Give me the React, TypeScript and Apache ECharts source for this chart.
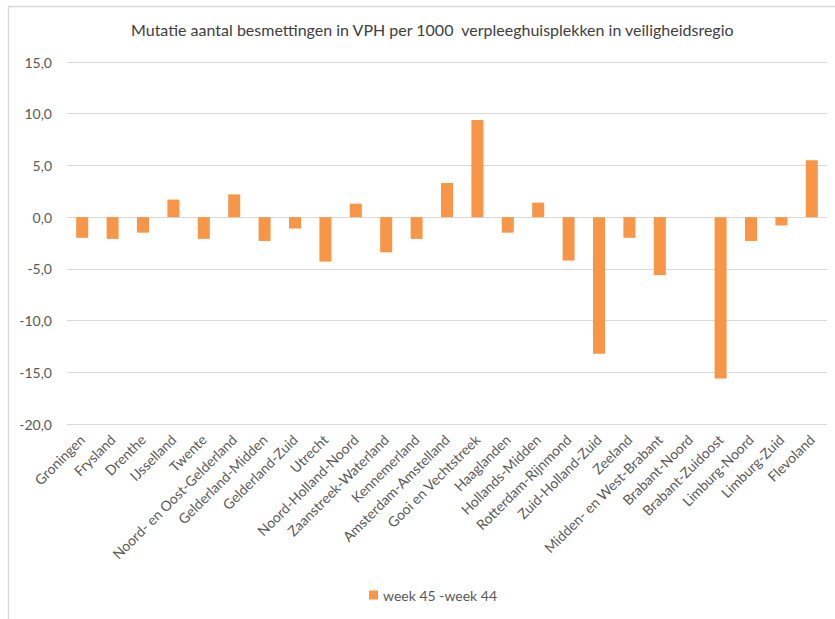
import React, { useEffect, useRef } from "react";
import * as echarts from "echarts";

const categories = [
  "Groningen", "Frysland", "Drenthe", "IJsselland", "Twente",
  "Noord- en Oost-Gelderland", "Gelderland-Midden", "Gelderland-Zuid", "Utrecht",
  "Noord-Holland-Noord", "Zaanstreek-Waterland", "Kennemerland", "Amsterdam-Amstelland",
  "Gooi en Vechtstreek", "Haaglanden", "Hollands-Midden", "Rotterdam-Rijnmond",
  "Zuid-Holland-Zuid", "Zeeland", "Midden- en West-Brabant", "Brabant-Noord",
  "Brabant-Zuidoost", "Limburg-Noord", "Limburg-Zuid", "Flevoland",
];

const mutatie = [
  -2.0, -2.1, -1.5, 1.7, -2.1,
  2.2, -2.3, -1.1, -4.3,
  1.3, -3.4, -2.1, 3.3,
  9.4, -1.5, 1.4, -4.2,
  -13.2, -2.0, -5.6, 0,
  -15.6, -2.3, -0.8, 5.5,
];

const seriesName = "week 45 -week 44";
const titleText = "Mutatie aantal besmettingen in VPH per 1000  verpleeghuisplekken in veiligheidsregio";

export default function App() {
  const ref = useRef<HTMLDivElement>(null);
  useEffect(() => {
    if (!ref.current) return;
    const chart = echarts.init(ref.current, undefined, { renderer: "svg" });
    const font = "Lato, 'Open Sans', sans-serif";
    chart.setOption({
      animation: false,
      backgroundColor: "#ffffff",
      textStyle: { fontFamily: font },
      title: {
        text: titleText,
        left: 126,
        top: 16,
        textStyle: { fontFamily: font, fontSize: 16, fontWeight: "normal", color: "#404040" },
      },
      graphic: [
        {
          type: "line",
          shape: { x1: 8.5, y1: 6, x2: 8.5, y2: 619 },
          style: { stroke: "#d9d9d9", lineWidth: 1.5 },
          silent: true,
        },
        {
          type: "line",
          shape: { x1: 8, y1: 6.5, x2: 835, y2: 6.5 },
          style: { stroke: "#d9d9d9", lineWidth: 1.5 },
          silent: true,
        },
      ],
      legend: {
        bottom: 12,
        left: 364,
        itemWidth: 9,
        itemHeight: 9,
        icon: "rect",
        itemGap: 4,
        textStyle: { fontFamily: font, fontSize: 14, color: "#595959" },
        data: [seriesName],
      },
      grid: { left: 67, right: 8, top: 62, bottom: 195, containLabel: false },
      xAxis: {
        type: "category",
        data: categories,
        axisLine: { show: false, onZero: false },
        axisTick: { show: false },
        axisLabel: {
          rotate: 45,
          interval: 0,
          margin: 13,
          fontFamily: font,
          fontSize: 14,
          color: "#595959",
        },
      },
      yAxis: {
        type: "value",
        min: -20,
        max: 15,
        interval: 5,
        axisLine: { show: false },
        axisTick: { show: false },
        splitLine: { lineStyle: { color: "#d9d9d9", width: 1 } },
        axisLabel: {
          margin: 15,
          fontFamily: font,
          fontSize: 14,
          color: "#595959",
          formatter: (v: number) => v.toFixed(1).replace(".", ","),
        },
      },
      series: [
        {
          name: seriesName,
          type: "bar",
          data: mutatie,
          barWidth: 12,
          itemStyle: { color: "#F79646" },
        },
      ],
    });
    return () => chart.dispose();
  }, []);
  return (
    <div
      ref={ref}
      style={{ position: "fixed", left: 0, top: 0, width: 835, height: 619 }}
    />
  );
}
